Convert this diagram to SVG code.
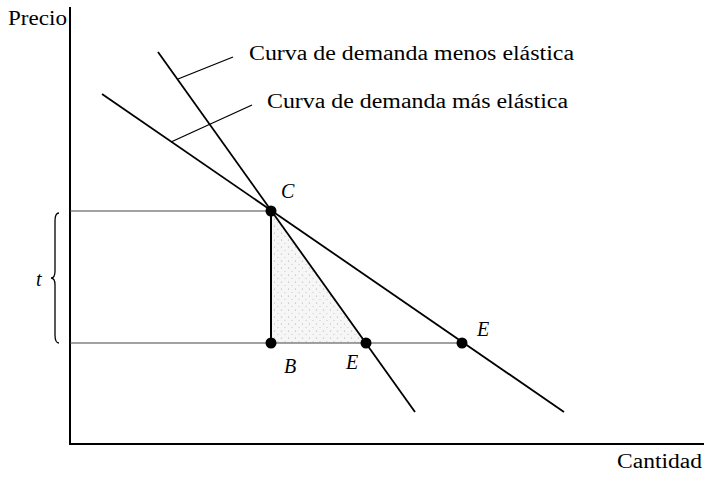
<svg xmlns="http://www.w3.org/2000/svg" width="706" height="478" viewBox="0 0 706 478">
<style>
.ax{stroke:#000;stroke-width:2;fill:none}
.dl{stroke:#000;stroke-width:1.8;fill:none}
.ld{stroke:#000;stroke-width:1.3;fill:none}
.hl{stroke:#444;stroke-width:1.2;fill:none}
.dot{fill:#000}
.t{font-family:"Liberation Serif","Times New Roman",serif;font-size:20px;fill:#000}
.it{font-family:"Liberation Serif","Times New Roman",serif;font-size:20px;font-style:italic;fill:#000}
</style>
<defs>
<pattern id="stip" width="7" height="7" patternUnits="userSpaceOnUse">
<rect width="7" height="7" fill="#f6f6f6"/>
<circle cx="1.5" cy="2" r="0.6" fill="#aaa"/>
<circle cx="5" cy="5.5" r="0.5" fill="#bbb"/>
</pattern>
</defs>
<g id="axes">
<line class="ax" x1="70" y1="7" x2="70" y2="444"/>
<line class="ax" x1="69" y1="444" x2="704" y2="444"/>
<text class="t" x="8" y="25" textLength="59" lengthAdjust="spacingAndGlyphs">Precio</text>
<text class="t" x="617" y="468" textLength="85" lengthAdjust="spacingAndGlyphs">Cantidad</text>
</g>
<g id="shade">
<polygon points="272,212 272,343 366,343" fill="url(#stip)"/>
</g>
<g id="connectors">
<line class="hl" x1="70" y1="211" x2="271" y2="211"/>
<line class="hl" x1="70" y1="343" x2="462" y2="343"/>
<line class="ax" x1="271" y1="211" x2="271" y2="343"/>
<line id="steep" class="dl" x1="158" y1="52" x2="415" y2="412"/>
<line id="flat" class="dl" x1="102" y1="94" x2="564" y2="412"/>
<line class="ld" x1="178" y1="79" x2="233" y2="57"/>
<line class="ld" x1="171" y1="142" x2="252" y2="105"/>
<path class="ld" d="M59,213 Q55,213 55,221 L55,271 Q55,278 51,278 Q55,278 55,285 L55,335 Q55,343 59,343"/>
</g>
<g id="label-menos">
<text class="t" x="249" y="60" textLength="325" lengthAdjust="spacingAndGlyphs">Curva de demanda menos elástica</text>
</g>
<g id="label-mas">
<text class="t" x="267" y="108" textLength="301" lengthAdjust="spacingAndGlyphs">Curva de demanda más elástica</text>
</g>
<g id="node-C">
<circle class="dot" cx="271" cy="211" r="5.5"/>
<text class="it" x="281" y="198">C</text>
</g>
<g id="node-B">
<circle class="dot" cx="271" cy="343" r="5.5"/>
<text class="it" x="284" y="373">B</text>
</g>
<g id="node-E1">
<circle class="dot" cx="366" cy="343" r="5.5"/>
<text class="it" x="346" y="369">E</text>
</g>
<g id="node-E2">
<circle class="dot" cx="462" cy="343" r="5.5"/>
<text class="it" x="477" y="336">E</text>
</g>
<g id="label-t">
<text class="it" x="36" y="286">t</text>
</g>
</svg>
